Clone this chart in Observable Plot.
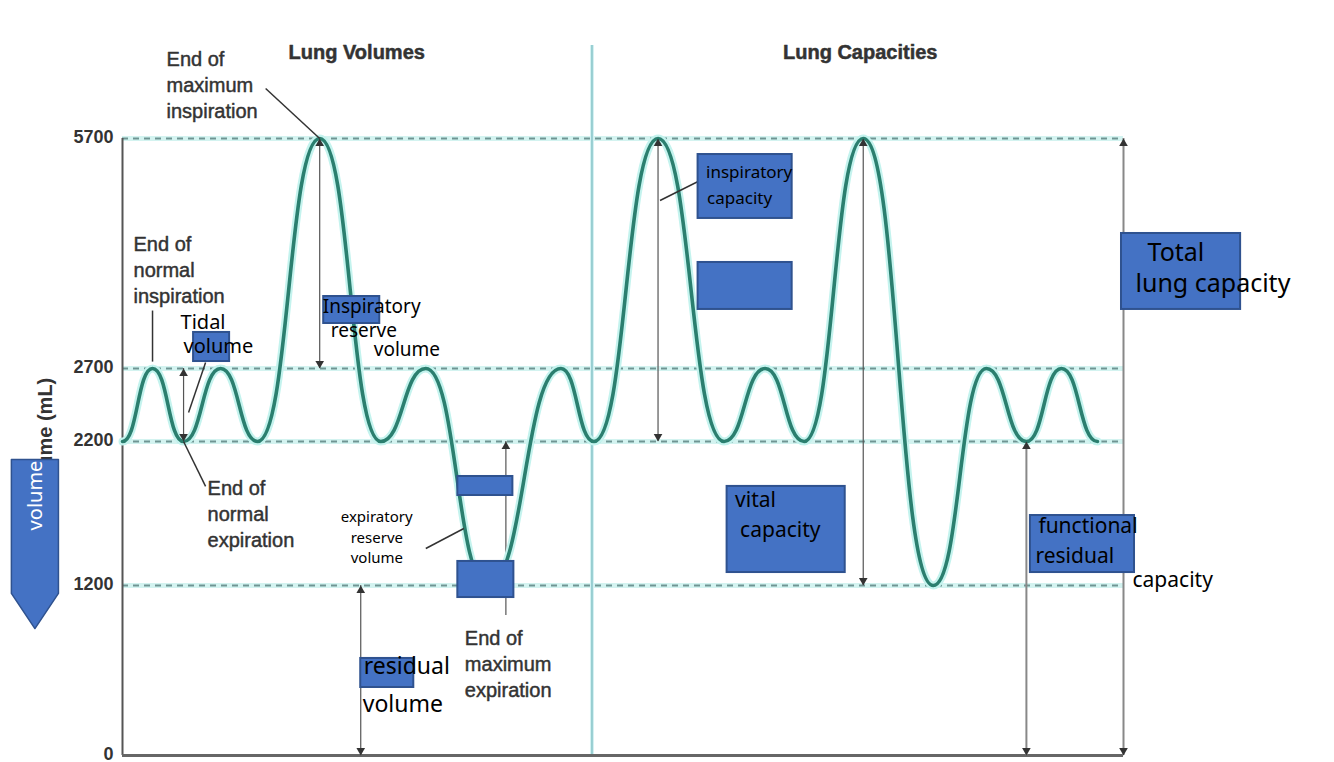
<!DOCTYPE html>
<html>
<head>
<meta charset="utf-8">
<script src="https://cdn.jsdelivr.net/npm/d3@7"></script>
<script src="https://cdn.jsdelivr.net/npm/@observablehq/plot@0.6"></script>
<style>
  html, body { margin: 0; padding: 0; background: #fff; }
  #chart svg { display: block; }
</style>
</head>
<body>
<div id="chart"></div>
<script>
// ---------- data ----------
// spirogram trace: time (arbitrary units) and volume (mL) at each peak / trough
const waveT = [0, 3.0, 6.1, 9.8, 13.5, 19.7, 25.8, 30.3, 36.5, 43.8, 47.1, 53.5, 60.1, 64.2, 68.1, 74.0, 81.0, 86.3, 90.3, 93.8, 97.4];
const waveV = [2200, 2700, 2200, 2700, 2200, 5700, 2200, 2700, 1200, 2700, 2200, 5700, 2200, 2700, 2200, 5700, 1200, 2700, 2200, 2700, 2200];

// y-axis tick values (mL) and reference levels
const yTicks = [0, 1200, 2200, 2700, 5700];
const refLevels = [1200, 2200, 2700, 5700];

// section titles
const sectionTitles = ["Lung Volumes", "Lung Capacities"];
const sectionT = [23.4, 73.7];
const sectionV = [6822, 6822];

// printed annotations
const printedText = ["End of\nmaximum\ninspiration", "End of\nnormal\ninspiration", "End of\nnormal\nexpiration", "End of\nmaximum\nexpiration"];
const printedT = [4.4, 1.1, 8.5, 34.2];
const printedV = [6417, 4004, 1707, 656];

// measurement arrows (time, low volume, high volume, has lower head)
const arrowName = ["tidal", "IRV", "ERV", "RV", "IC", "VC", "FRC", "TLC"];
const arrowT = [6.1, 19.7, 38.3, 23.8, 53.5, 74.0, 90.3, 100];
const arrowLo = [2200, 2700, 988, 0, 2200, 1200, 0, 0];
const arrowHi = [2700, 5700, 2200, 1200, 5700, 5700, 2200, 5700];
const arrowLowHead = [true, true, false, true, true, true, true, true];

// leader lines [t1, v1, t2, v2]
const leaderT1 = [14.3, 3.0, 6.1, 6.6, 53.7, 30.3];
const leaderV1 = [6352, 3456, 2200, 2399, 4891, 1457];
const leaderT2 = [19.7, 3.0, 8.3, 8.3, 57.7, 34.1];
const leaderV2 = [5700, 2790, 1888, 2778, 5152, 1596];

// blue label boxes [t1, t2, v1, v2]
const boxT1 = [7.1, 20.1, 33.5, 33.5, 23.8, 57.5, 57.5, 99.8, 60.4, 90.7];
const boxT2 = [10.7, 25.7, 39.0, 39.1, 29.1, 66.9, 66.9, 111.7, 72.2, 101.1];
const boxV1 = [2791, 3287, 1825, 1115, 480, 4657, 3470, 3470, 1290, 1290];
const boxV2 = [3170, 3639, 1957, 1367, 685, 5491, 4083, 4461, 1888, 1686];

// handwritten notes
const noteText = ["Tidal", "volume", "Inspiratory", "reserve", "volume", "expiratory", "reserve", "volume", "residual", "volume", "inspiratory", "capacity", "Total", "lung capacity", "vital", "capacity", "functional", "residual", "capacity"];
const noteT = [5.8, 6.1, 20.0, 20.8, 25.1, 21.8, 22.8, 22.8, 24.1, 24.0, 58.3, 58.4, 102.4, 101.2, 61.2, 61.7, 91.5, 91.2, 100.9];
const noteV = [3300, 2980, 3500, 3190, 2940, 1675, 1526, 1390, 625, 360, 5256, 4917, 4213, 3800, 1790, 1582, 1610, 1400, 1235];
const noteGroup = ["tv", "tv", "irv", "irv", "irv", "erv", "erv", "erv", "rv", "rv", "ic", "ic", "tlc", "tlc", "vc", "vc", "frc", "frc", "frc"];

// side "volume" tag (pentagon pointing down)
const tagT = [-11.1, -6.4, -6.4, -8.75, -11.1, -11.1];
const tagV = [2075, 2075, 1144, 896, 1144, 2075];
const tagLabel = "volume";
const yLabel = "Volume (mL)";
const dividerT = 46.9;

// ---------- styles ----------
const noteSize = {tv: 20, irv: 19, erv: 15, rv: 23, ic: 17, tlc: 25, vc: 21, frc: 21};
const FONT = "'Liberation Sans', Arimo, Arial, Helvetica, sans-serif";
const HAND = "'Noto Sans', 'Open Sans', sans-serif";
const BOX_FILL = "#4472c4", BOX_STROKE = "#2f528f";
const INK = "#333";
const isSide = (i) => arrowName[i] === "FRC" || arrowName[i] === "TLC";

const wave = waveT.map((t, i) => ({t, v: waveV[i]}));
const idx = (arr) => arr.map((_, i) => i);

const chart = Plot.plot({
  width: 1334,
  height: 762,
  marginLeft: 122,
  marginRight: 211,
  marginTop: 138,
  marginBottom: 7,
  style: {background: "#fff", fontFamily: FONT, overflow: "visible"},
  x: {domain: [0, 100], range: [122, 1123], axis: null},
  y: {type: "linear", domain: yTicks, range: [755, 585, 441, 368, 138], axis: null},
  marks: [
    // reference dashed levels
    Plot.ruleY(refLevels, {x1: 0, x2: 100, stroke: "#d3f3f0", strokeWidth: 5}),
    Plot.ruleY(refLevels, {x1: 0, x2: 100, stroke: "#6f9593", strokeWidth: 2, strokeDasharray: "6,5"}),
    // divider between sections
    Plot.ruleX([dividerT], {y1: 0, y2: 6913, stroke: "#d4f1f2", strokeWidth: 4}),
    Plot.ruleX([dividerT], {y1: 0, y2: 6913, stroke: "#86c4c8", strokeWidth: 1.5}),
    // axes lines
    Plot.ruleX([0], {y1: 0, y2: 5700, stroke: "#555", strokeWidth: 2}),
    Plot.ruleY([0], {x1: 0, x2: 100, stroke: "#666", strokeWidth: 3}),
    // measurement arrows
    Plot.ruleX(idx(arrowT), {x: i => arrowT[i], y1: i => arrowLo[i], y2: i => arrowHi[i], stroke: i => isSide(i) ? "#888" : "#555", strokeWidth: i => isSide(i) ? 2 : 1.2}),
    // wave
    Plot.line(wave, {x: "t", y: "v", curve: "bump-x", stroke: "#c4f3ee", strokeWidth: 8}),
    Plot.line(wave, {x: "t", y: "v", curve: "bump-x", stroke: "#2b7f6f", strokeWidth: 3.6}),
    // arrowheads
    Plot.dot(idx(arrowT), {x: i => arrowT[i], y: i => arrowHi[i], symbol: "triangle", r: 3.2, fill: "#333", stroke: "none", dy: 5}),
    Plot.dot(idx(arrowT).filter(i => arrowLowHead[i]), {x: i => arrowT[i], y: i => arrowLo[i], symbol: "triangle", r: 3.2, rotate: 180, fill: "#333", stroke: "none", dy: -5}),
    // leader lines
    Plot.link(idx(leaderT1), {x1: i => leaderT1[i], y1: i => leaderV1[i], x2: i => leaderT2[i], y2: i => leaderV2[i], stroke: "#333", strokeWidth: 1.5}),
    // y tick labels
    Plot.text(yTicks, {x: 0, y: d => d, text: d => String(d), textAnchor: "end", dx: -9, dy: -1, fontSize: 18, fontWeight: "bold", fill: INK, fontFamily: FONT}),
    // y label (mostly covered by tag)
    Plot.text([yLabel], {x: -7.7, y: 2227, text: d => d, rotate: -90, fontSize: 20, fontWeight: "bold", fill: INK, fontFamily: FONT}),
    // volume tag
    Plot.line(idx(tagT), {x: i => tagT[i], y: i => tagV[i], fill: BOX_FILL, stroke: BOX_STROKE, strokeWidth: 1.5, curve: "linear"}),
    Plot.text([tagLabel], {x: -8.7, y: 1825, text: d => d, rotate: -90, fontSize: 20, fill: "#fff", fontFamily: HAND}),
    // blue boxes
    Plot.rect(idx(boxT1), {x1: i => boxT1[i], x2: i => boxT2[i], y1: i => boxV1[i], y2: i => boxV2[i], fill: BOX_FILL, stroke: BOX_STROKE, strokeWidth: 2}),
    // section titles
    Plot.text(idx(sectionTitles), {x: i => sectionT[i], y: i => sectionV[i], text: i => sectionTitles[i], fontSize: 20, fontWeight: "bold", fill: INK, stroke: INK, strokeWidth: 0.5, fontFamily: FONT}),
    // printed annotations
    Plot.text(idx(printedText), {x: i => printedT[i], y: i => printedV[i], text: i => printedText[i], textAnchor: "start", lineAnchor: "middle", lineHeight: 1.3, fontSize: 20, fill: INK, stroke: INK, strokeWidth: 0.45, fontFamily: FONT}),
    // handwritten notes
    Plot.text(idx(noteText), {x: i => noteT[i], y: i => noteV[i], text: i => noteText[i], textAnchor: "start", fontSize: i => noteSize[noteGroup[i]], fill: "#000", fontFamily: HAND})
  ]
});

document.getElementById("chart").appendChild(chart);
</script>
</body>
</html>
